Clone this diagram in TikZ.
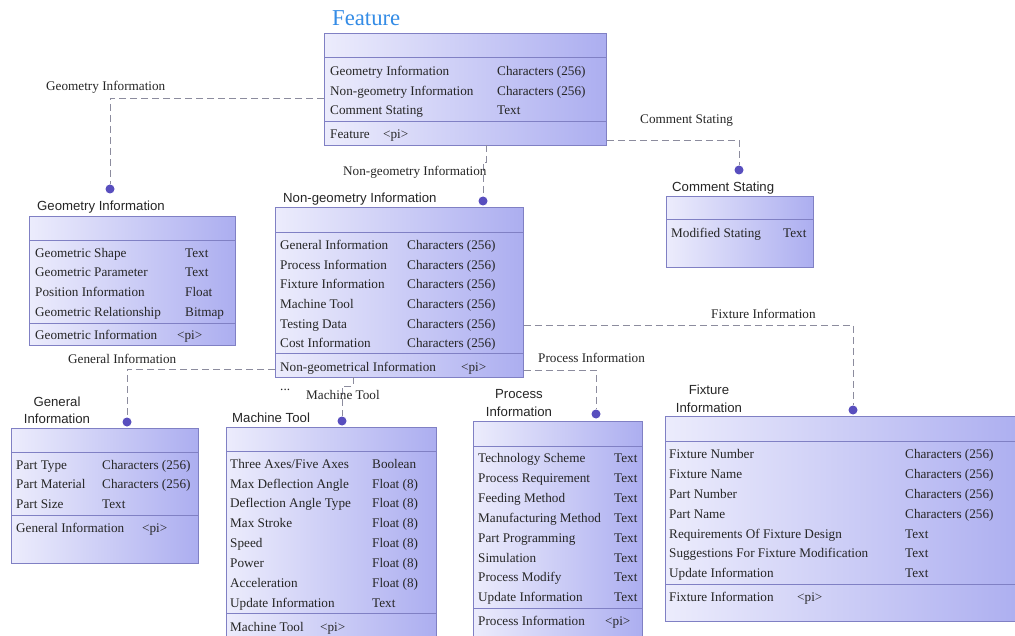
\documentclass[tikz,border=0pt]{standalone}
\usepackage{fontspec}
\setmainfont{Liberation Serif}
\newfontfamily\ttlfont{Liberation Sans}
\definecolor{boxL}{RGB}{236,236,252}
\definecolor{boxR}{RGB}{172,174,240}
\definecolor{boxline}{RGB}{128,128,196}
\definecolor{conncol}{RGB}{140,140,158}
\definecolor{dotcol}{RGB}{88,78,190}
\definecolor{txt}{RGB}{38,38,38}
\definecolor{feattitle}{RGB}{52,140,230}
\newcounter{rowc}
\newcommand{\rowtext}[3]{\stepcounter{rowc}\node[attr] (t\arabic{rowc}) at (#1,#2) {#3};}
\newcommand{\divider}[2]{\draw[divl] ([yshift=-#2pt]#1.north west) -- ([yshift=-#2pt]#1.north east);}
\begin{document}
\begin{tikzpicture}[x=1pt,y=-1pt,
  umlbox/.style={draw=boxline, line width=0.8pt, left color=boxL, right color=boxR, inner sep=0pt, anchor=north west},
  divl/.style={draw=boxline, line width=0.8pt},
  attr/.style={anchor=base west, inner sep=0pt, yshift=-5.2pt, text=txt, font=\fontsize{13.2}{15}\selectfont},
  ttl/.style={anchor=west, inner sep=0pt, yshift=-1pt, text=txt, font=\ttlfont\fontsize{13.2}{17}\selectfont},
  ttlc/.style={align=center, inner sep=0pt, yshift=-1pt, text=txt, font=\ttlfont\fontsize{13.2}{17.5}\selectfont},
  lbl/.style={anchor=west, inner sep=0pt, yshift=-1.5pt, text=txt, font=\fontsize{13.2}{15}\selectfont},
  conn/.style={draw=conncol, line width=0.9pt, dash pattern=on 7pt off 4pt},
  enddot/.style={circle, fill=dotcol, inner sep=0pt, minimum size=9pt}
]
\useasboundingbox (0,0) rectangle (1015,636);
\clip (0,0) rectangle (1015,636);
\fill[white] (0,0) rectangle (1015,636);

% ---------- boxes ----------
\node[umlbox, minimum width=282pt, minimum height=112pt] (feat) at (324,33) {};
\divider{feat}{24}\divider{feat}{88}
\node[umlbox, minimum width=206pt, minimum height=129pt] (geo) at (29,216) {};
\divider{geo}{24}\divider{geo}{107}
\node[umlbox, minimum width=248pt, minimum height=170pt] (ngeo) at (275,207) {};
\divider{ngeo}{25}\divider{ngeo}{146}
\node[umlbox, minimum width=147pt, minimum height=71pt] (comm) at (666,196) {};
\divider{comm}{23}
\node[umlbox, minimum width=187pt, minimum height=135pt] (gen) at (11,428) {};
\divider{gen}{24}\divider{gen}{87}
\node[umlbox, minimum width=210pt, minimum height=230pt] (mach) at (226,427) {};
\divider{mach}{24}\divider{mach}{186}
\node[umlbox, minimum width=169pt, minimum height=236pt] (proc) at (473,421) {};
\divider{proc}{25}\divider{proc}{187}
\node[umlbox, minimum width=360pt, minimum height=205pt] (fix) at (665,416) {};
\divider{fix}{25}\divider{fix}{168}

% ---------- titles ----------
\node[anchor=base west, inner sep=0pt, text=feattitle, font=\fontsize{22.7}{26}\selectfont] (featttl) at (332,25.5) {Feature};
\node[ttl] (geottl) at (37,206) {Geometry Information};
\node[ttl] (ngeottl) at (283,198) {Non-geometry Information};
\node[ttl] (commttl) at (672,187) {Comment Stating};
\node[ttlc] (genttl) at (57,409.5) {General\\Information};
\node[ttl] (machttl) at (232,417) {Machine Tool};
\node[ttlc] (procttl) at (519,402) {Process\\Information};
\node[ttlc] (fixttl) at (709,398) {Fixture\\Information};

% ---------- Feature ----------
\rowtext{330}{70}{Geometry Information}\rowtext{497}{70}{Characters (256)}
\rowtext{330}{90}{Non-geometry Information}\rowtext{497}{90}{Characters (256)}
\rowtext{330}{109}{Comment Stating}\rowtext{497}{109}{Text}
\rowtext{330}{133}{Feature}\rowtext{383}{133}{<pi>}

% ---------- Geometry ----------
\rowtext{35}{252}{Geometric Shape}\rowtext{185}{252}{Text}
\rowtext{35}{271}{Geometric Parameter}\rowtext{185}{271}{Text}
\rowtext{35}{291}{Position Information}\rowtext{185}{291}{Float}
\rowtext{35}{311}{Geometric Relationship}\rowtext{185}{311}{Bitmap}
\rowtext{35}{334}{Geometric Information}\rowtext{177}{334}{<pi>}

% ---------- Non-geometry ----------
\rowtext{280}{244}{General Information}\rowtext{407}{244}{Characters (256)}
\rowtext{280}{264}{Process Information}\rowtext{407}{264}{Characters (256)}
\rowtext{280}{283}{Fixture Information}\rowtext{407}{283}{Characters (256)}
\rowtext{280}{303}{Machine Tool}\rowtext{407}{303}{Characters (256)}
\rowtext{280}{323}{Testing Data}\rowtext{407}{323}{Characters (256)}
\rowtext{280}{342}{Cost Information}\rowtext{407}{342}{Characters (256)}
\rowtext{280}{366}{Non-geometrical Information}\rowtext{461}{366}{<pi>}

% ---------- Comment ----------
\rowtext{671}{232}{Modified Stating}\rowtext{783}{232}{Text}

% ---------- General ----------
\rowtext{16}{464}{Part Type}\rowtext{102}{464}{Characters (256)}
\rowtext{16}{483}{Part Material}\rowtext{102}{483}{Characters (256)}
\rowtext{16}{503}{Part Size}\rowtext{102}{503}{Text}
\rowtext{16}{527}{General Information}\rowtext{142}{527}{<pi>}

% ---------- Machine Tool ----------
\rowtext{230}{463}{Three Axes/Five Axes}\rowtext{372}{463}{Boolean}
\rowtext{230}{483}{Max Deflection Angle}\rowtext{372}{483}{Float (8)}
\rowtext{230}{502}{Deflection Angle Type}\rowtext{372}{502}{Float (8)}
\rowtext{230}{522}{Max Stroke}\rowtext{372}{522}{Float (8)}
\rowtext{230}{542}{Speed}\rowtext{372}{542}{Float (8)}
\rowtext{230}{562}{Power}\rowtext{372}{562}{Float (8)}
\rowtext{230}{582}{Acceleration}\rowtext{372}{582}{Float (8)}
\rowtext{230}{602}{Update Information}\rowtext{372}{602}{Text}
\rowtext{230}{626}{Machine Tool}\rowtext{320}{626}{<pi>}

% ---------- Process ----------
\rowtext{478}{457}{Technology Scheme}\rowtext{614}{457}{Text}
\rowtext{478}{477}{Process Requirement}\rowtext{614}{477}{Text}
\rowtext{478}{497}{Feeding Method}\rowtext{614}{497}{Text}
\rowtext{478}{517}{Manufacturing Method}\rowtext{614}{517}{Text}
\rowtext{478}{537}{Part Programming}\rowtext{614}{537}{Text}
\rowtext{478}{557}{Simulation}\rowtext{614}{557}{Text}
\rowtext{478}{576}{Process Modify}\rowtext{614}{576}{Text}
\rowtext{478}{596}{Update Information}\rowtext{614}{596}{Text}
\rowtext{478}{620}{Process Information}\rowtext{605}{620}{<pi>}

% ---------- Fixture ----------
\rowtext{669}{453}{Fixture Number}\rowtext{905}{453}{Characters (256)}
\rowtext{669}{473}{Fixture Name}\rowtext{905}{473}{Characters (256)}
\rowtext{669}{493}{Part Number}\rowtext{905}{493}{Characters (256)}
\rowtext{669}{513}{Part Name}\rowtext{905}{513}{Characters (256)}
\rowtext{669}{533}{Requirements Of Fixture Design}\rowtext{905}{533}{Text}
\rowtext{669}{552}{Suggestions For Fixture Modification}\rowtext{905}{552}{Text}
\rowtext{669}{572}{Update Information}\rowtext{905}{572}{Text}
\rowtext{669}{596}{Fixture Information}\rowtext{797}{596}{<pi>}

% ---------- connector end dots ----------
\node[enddot] (dgeo) at (110,189) {};
\node[enddot] (dngeo) at (483,201) {};
\node[enddot] (dcomm) at (739,170) {};
\node[enddot] (dgen) at (127,422) {};
\node[enddot] (dmach) at (342,421) {};
\node[enddot] (dproc) at (596,414) {};
\node[enddot] (dfix) at (853,410) {};

% ---------- connector start points ----------
\coordinate (sgeo) at (feat.west |- 0,98);
\coordinate (sngeo) at (486,145);
\coordinate (sngeoa) at (486,162);
\coordinate (sngeob) at (483,162);
\coordinate (scomm) at (feat.east |- 0,140);
\coordinate (sgen) at (ngeo.west |- 0,369);
\coordinate (smach) at (353,377);
\coordinate (smacha) at (353,386);
\coordinate (smachb) at (342,386);
\coordinate (sproc) at (ngeo.east |- 0,370);
\coordinate (sfix) at (ngeo.east |- 0,325);

% ---------- connectors ----------
\draw[conn] (sgeo) -| (dgeo);
\draw[conn] (sngeo) -- (sngeoa) -- (sngeob) -- (dngeo);
\draw[conn] (scomm) -| (dcomm);
\draw[conn] (sgen) -| (dgen);
\draw[conn] (smach) -- (smacha) -- (smachb) -- (dmach);
\draw[conn] (sproc) -| (dproc);
\draw[conn] (sfix) -| (dfix);

% ---------- connector labels ----------
\node[lbl] (lgeo) at (46,86) {Geometry Information};
\node[lbl] (lngeo) at (343,171) {Non-geometry Information};
\node[lbl] (lcomm) at (640,119) {Comment Stating};
\node[lbl] (lgen) at (68,357) {General Information};
\node[lbl] (ldots) at (280,388) {...};
\node[lbl] (lmach) at (306,393) {Machine Tool};
\node[lbl] (lproc) at (538,356) {Process Information};
\node[lbl] (lfix) at (711,312) {Fixture Information};
\end{tikzpicture}
\end{document}
